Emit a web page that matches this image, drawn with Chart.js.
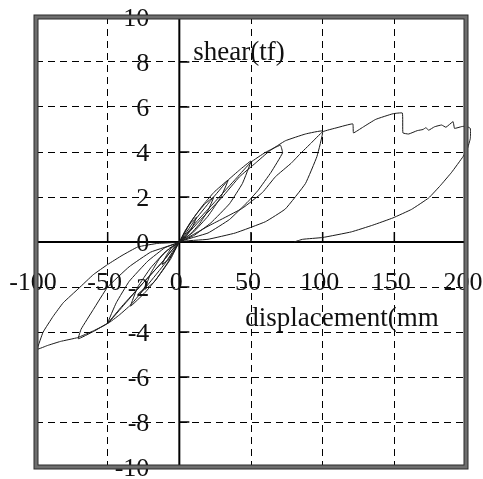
<!DOCTYPE html>
<html>
<head>
<meta charset="utf-8">
<script src="https://cdn.jsdelivr.net/npm/chart.js@4"></script>
<style>
  html, body { margin: 0; padding: 0; background: #fff; }
</style>
</head>
<body>
<canvas id="chart" width="483" height="479"></canvas>
<script>
// hysteresis loops, one array pair per cycle (mm, tf)
const dispC1 = [0, 4, 8, 12, 9, 5, 0, -4, -8, -12, -9, -5, 0];
const shearC1 = [0, 0.5, 0.85, 1.1, 0.65, 0.28, 0, -0.45, -0.8, -1.0, -0.6, -0.22, 0];

const dispC2 = [6, 12, 18, 24, 20, 14, 7, 0, -6, -12, -18, -24, -20, -14, -7, 0];
const shearC2 = [0.7, 1.25, 1.7, 2.0, 1.4, 0.8, 0.3, 0, -0.75, -1.3, -1.8, -2.1, -1.4, -0.75, -0.28, 0];

const dispC3 = [8, 16, 24, 34, 29, 20, 10, 0, -8, -16, -24, -34, -29, -20, -10, 0];
const shearC3 = [0.9, 1.6, 2.2, 2.75, 2.0, 1.15, 0.45, 0, -0.9, -1.65, -2.25, -2.85, -2.0, -1.15, -0.45, 0];

const dispC4 = [10, 22, 34, 42, 50, 44, 35, 22, 10, 0, -10, -22, -34, -42, -50, -44, -35, -22, -10, 0];
const shearC4 = [0.9, 1.85, 2.75, 3.2, 3.6, 2.6, 1.7, 0.85, 0.28, 0, -0.95, -1.9, -2.8, -3.25, -3.62, -2.7, -1.75, -0.85, -0.25, 0];

const dispC5 = [12, 25, 40, 50, 60, 70.5, 72, 64, 55, 48, 35, 20, 0, -12, -25, -40, -50, -60, -70.5, -68.5, -60, -50, -35, -20, 0];
const shearC5 = [0.9, 1.8, 2.85, 3.55, 3.98, 4.3, 3.96, 3.1, 2.3, 1.8, 1.0, 0.4, 0, -0.9, -1.8, -2.85, -3.6, -3.98, -4.3, -3.87, -3.0, -2.0, -1.1, -0.45, 0];

const dispC6 = [15, 30, 42, 53, 63, 74, 88, 100, 96, 88, 74, 60, 39, 20, 0, -12, -25, -38, -50, -60, -71, -83, -92, -99, -95, -88, -81, -70, -60, -50, -40, -29, -15, 0];
const shearC6 = [1.0, 2.0, 2.9, 3.5, 4.05, 4.5, 4.8, 4.93, 3.8, 2.6, 1.47, 0.9, 0.4, 0.12, 0, -0.9, -1.8, -2.75, -3.62, -3.95, -4.25, -4.42, -4.6, -4.76, -4.0, -3.3, -2.7, -2.05, -1.45, -1.0, -0.6, -0.22, -0.06, 0];

const dispC7 = [20, 44, 58, 67, 78, 84, 92, 100, 110, 121, 121.5, 128, 137, 149, 155.6, 156, 160, 166, 170, 172, 174, 178, 183, 186, 191, 192, 197, 200, 203, 203, 201, 198, 190, 182, 174, 162, 149, 135, 120, 100, 86, 80];
const shearC7 = [0.7, 1.5, 2.2, 2.9, 3.5, 3.9, 4.4, 4.9, 5.08, 5.25, 4.85, 5.1, 5.45, 5.7, 5.73, 4.85, 4.8, 4.95, 5.0, 5.08, 4.97, 5.12, 5.2, 5.1, 5.35, 5.05, 5.13, 5.15, 5.05, 4.6, 4.15, 3.8, 3.1, 2.5, 1.96, 1.45, 1.07, 0.75, 0.45, 0.2, 0.12, 0];

const xTicks = [-100, -50, 0, 50, 100, 150, 200];
const yTicks = [10, 8, 6, 4, 2, 0, -2, -4, -6, -8, -10];
const xTitle = 'displacement(mm';
const yTitle = 'shear(tf)';

const cycles = [
  [dispC1, shearC1], [dispC2, shearC2], [dispC3, shearC3], [dispC4, shearC4],
  [dispC5, shearC5], [dispC6, shearC6], [dispC7, shearC7]
];
const path = [];
cycles.forEach(([d, s]) => {
  d.forEach((x, i) => path.push({ x: x, y: s[i] }));
});

const FONT = '26px "Liberation Serif", "Times New Roman", serif';
const TITLE_FONT = '27px "Liberation Serif", "Times New Roman", serif';

const axesPlugin = {
  id: 'axesPlugin',
  beforeDatasetsDraw(chart) {
    const { ctx, chartArea: a, scales: { x, y } } = chart;
    const x0 = x.getPixelForValue(0);
    const y0 = y.getPixelForValue(0);
    ctx.save();
    ctx.strokeStyle = '#000';
    ctx.lineWidth = 2;
    ctx.beginPath();
    ctx.moveTo(x0, a.top); ctx.lineTo(x0, a.bottom);
    ctx.moveTo(a.left, y0); ctx.lineTo(a.right, y0);
    ctx.stroke();

    // short tick marks
    ctx.lineWidth = 1.5;
    ctx.beginPath();
    yTicks.forEach(v => {
      if (Math.abs(v) === 10 || v === 0) return;
      const py = y.getPixelForValue(v);
      ctx.moveTo(x0, py); ctx.lineTo(x0 + 10, py);
    });
    xTicks.forEach(v => {
      if (v === -100 || v === 200 || v === 0) return;
      const px = x.getPixelForValue(v);
      ctx.moveTo(px, y0); ctx.lineTo(px, y0 - 10);
    });
    ctx.stroke();

    ctx.fillStyle = '#111';
    ctx.font = FONT;
    ctx.textBaseline = 'middle';
    ctx.textAlign = 'right';
    yTicks.forEach(v => {
      ctx.fillText(String(v), x0 - 30, y.getPixelForValue(v) + 2);
    });
    ctx.textAlign = 'center';
    const labelY = y.getPixelForValue(-1.85);
    xTicks.forEach(v => {
      ctx.fillText(String(v), x.getPixelForValue(v) - 3, labelY);
    });

    ctx.textAlign = 'left';
    ctx.font = TITLE_FONT;
    ctx.fillText(yTitle, x0 + 14, y.getPixelForValue(8.4));
    ctx.fillText(xTitle, x.getPixelForValue(46), y.getPixelForValue(-3.42));
    ctx.restore();
  },
  afterDraw(chart) {
    const { ctx, chartArea: a } = chart;
    ctx.save();
    ctx.strokeStyle = '#6e6e6e';
    ctx.lineWidth = 4;
    ctx.strokeRect(a.left, a.top, a.right - a.left, a.bottom - a.top);
    ctx.strokeStyle = '#2a2a2a';
    ctx.lineWidth = 1;
    ctx.strokeRect(a.left - 2, a.top - 2, a.right - a.left + 4, a.bottom - a.top + 4);
    ctx.strokeRect(a.left + 2, a.top + 2, a.right - a.left - 4, a.bottom - a.top - 4);
    ctx.restore();
  }
};

new Chart(document.getElementById('chart'), {
  type: 'scatter',
  data: {
    datasets: [{
      label: 'shear',
      data: path,
      showLine: true,
      borderColor: '#1a1a1a',
      borderWidth: 1,
      pointRadius: 0,
      tension: 0.1,
      clip: 8
    }]
  },
  options: {
    responsive: false,
    animation: false,
    layout: { padding: { left: 36, right: 17, top: 17, bottom: 12 } },
    plugins: {
      legend: { display: false },
      tooltip: { enabled: false }
    },
    scales: {
      x: {
        type: 'linear',
        min: -100,
        max: 200,
        ticks: { display: false, stepSize: 50 },
        grid: { color: '#000', lineWidth: 1, drawTicks: false },
        border: { display: false, dash: [7, 5] }
      },
      y: {
        type: 'linear',
        min: -10,
        max: 10,
        ticks: { display: false, stepSize: 2 },
        grid: { color: '#000', lineWidth: 1, drawTicks: false },
        border: { display: false, dash: [7, 5] }
      }
    }
  },
  plugins: [axesPlugin]
});
</script>
</body>
</html>
